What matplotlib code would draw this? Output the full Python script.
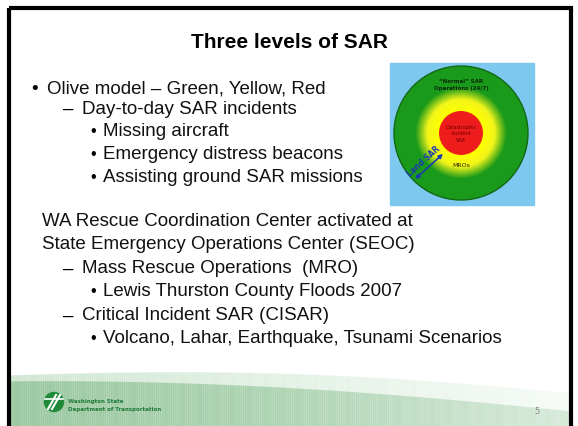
import numpy as np
import matplotlib
matplotlib.use("Agg")
import matplotlib.pyplot as plt
from matplotlib.patches import Circle, Rectangle, FancyArrowPatch
from matplotlib.colors import LinearSegmentedColormap

W, H = 578, 427

title = "Three levels of SAR"

# (level, text) for the two bullet blocks
block1 = [
    (0, "Olive model \u2013 Green, Yellow, Red"),
    (1, "Day-to-day SAR incidents"),
    (2, "Missing aircraft"),
    (2, "Emergency distress beacons"),
    (2, "Assisting ground SAR missions"),
]
block1_y = [89, 109, 132, 155, 178]

block2 = [
    (-1, "WA Rescue Coordination Center activated at"),
    (-1, "State Emergency Operations Center (SEOC)"),
    (1, "Mass Rescue Operations  (MRO)"),
    (2, "Lewis Thurston County Floods 2007"),
    (1, "Critical Incident SAR (CISAR)"),
    (2, "Volcano, Lahar, Earthquake, Tsunami Scenarios"),
]
block2_y = [222, 245, 269, 292, 316, 339]

# rings of the olive model: radius in px
ring_outer = 67
ring_yellow = 46
ring_red = 22
ring_labels = ["\u201cNormal\u201d SAR\nOperations (24/7)", "Catastrophic\nincident\nSAR", "MROs", "Land SAR"]

fig = plt.figure(figsize=(W / 100, H / 100), dpi=100)
ax = fig.add_axes([0, 0, 1, 1])
ax.set_xlim(0, W)
ax.set_ylim(H, 0)
ax.axis("off")
ax.set_aspect("equal")

# footer wave
xs = np.linspace(8, 572, 300)
u = (xs - 8) / 564
top_wave = 376 - 6 * np.sin(u * np.pi) + 18 * u ** 2
grad = LinearSegmentedColormap.from_list("ft", ["#cfe6d2", "#e3f1e5", "#f6fbf6"])
for i in range(len(xs) - 1):
    ax.fill_between(xs[i:i + 2], top_wave[i:i + 2], H, color=grad(i / len(xs)), lw=0, zorder=1)
wave2 = 382 - 4 * np.sin(u * np.pi) + 30 * u ** 1.5
grad2 = LinearSegmentedColormap.from_list("ft2", ["#9bc8a0", "#aed4b2", "#d6eada"])
for i in range(len(xs) - 1):
    ax.fill_between(xs[i:i + 2], wave2[i:i + 2], H, color=grad2(i / len(xs)), lw=0, zorder=1)

# frame
ax.add_patch(Rectangle((9, 9), 562, 430, fill=False, ec="black", lw=3, zorder=5))

ax.text(289, 42, title, ha="center", va="center", fontsize=15, fontweight="bold",
        family="Liberation Sans", color="black")

fs = 13.5
bullet_x = {-1: None, 0: 35, 1: 68, 2: 93}
text_x = {-1: 42, 0: 47, 1: 82, 2: 103}


def draw_block(items, ys):
    for (lvl, txt), y in zip(items, ys):
        if lvl == 0:
            ax.text(bullet_x[lvl], y, "\u2022", ha="center", va="center", fontsize=fs, family="Liberation Sans")
        elif lvl == 1:
            ax.text(bullet_x[lvl], y, "\u2013", ha="center", va="center", fontsize=fs, family="Liberation Sans")
        elif lvl == 2:
            ax.text(bullet_x[lvl], y, "\u2022", ha="center", va="center", fontsize=fs - 2, family="Liberation Sans")
        ax.text(text_x[lvl], y, txt, ha="left", va="center", fontsize=fs, family="Liberation Sans", color="#111111")


draw_block(block1, block1_y)
draw_block(block2, block2_y)

# olive model picture
cx, cy = 461, 134
ax.add_patch(Rectangle((390, 64), 144, 142, color="#7cc8ef", zorder=2))
ax.add_patch(Circle((cx, cy), ring_outer, fc="#1a9a1a", ec="#146814", lw=1, zorder=3))
ring_cmap = LinearSegmentedColormap.from_list("rg", ["#ffff00", "#f2f51a", "#1a9a1a"])
for r in np.linspace(ring_yellow, ring_red, 40):
    t = (r - ring_red) / (ring_yellow - ring_red)
    ax.add_patch(Circle((cx, cy), r, color=ring_cmap(t), lw=0, zorder=3))
ax.add_patch(Circle((cx, cy), ring_red, color="#ee1c1c", lw=0, zorder=3))
ax.text(cx, 85, ring_labels[0], ha="center", va="center", fontsize=4, fontweight="bold",
        color="#0a2a0a", zorder=4, linespacing=1.6)
ax.text(cx, cy, ring_labels[1], ha="center", va="center", fontsize=3.5, color="#6a0000",
        zorder=4, linespacing=1.3)
ax.text(cx, 166, ring_labels[2], ha="center", va="center", fontsize=4.5, color="#222200", zorder=4)
ax.add_patch(FancyArrowPatch((413, 182), (445, 153), arrowstyle="<|-|>", mutation_scale=6,
                             color="#1a3ab0", lw=1.2, zorder=4))
ax.text(424, 161, ring_labels[3], ha="center", va="center", fontsize=5.5, fontweight="bold",
        color="#1a3ab0", rotation=42, zorder=4)

# footer logo and page number
ax.add_patch(Circle((54, 403), 9.5, color="#1f8a3a", zorder=4))
ax.plot([48, 56], [410, 396], color="white", lw=1.5, zorder=5)
ax.plot([52, 60], [410, 396], color="white", lw=1.5, zorder=5)
ax.plot([45, 63], [400, 400], color="white", lw=1.2, zorder=5)
ax.text(68, 402, "Washington State", fontsize=4.0, fontweight="bold", color="#1f7a3a",
        va="center", zorder=4)
ax.text(68, 410, "Department of Transportation", fontsize=4.0, fontweight="bold", color="#1f7a3a",
        va="center", zorder=4)
ax.text(537, 412, "5", fontsize=6, color="#888888", ha="center", va="center", zorder=4)

fig.savefig("out.png", dpi=100)
